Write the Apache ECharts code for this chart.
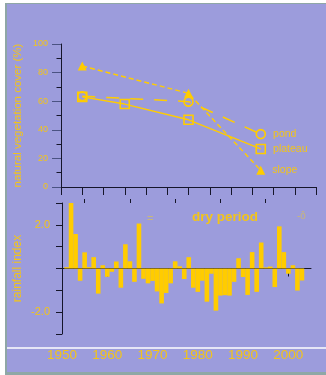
<!DOCTYPE html>
<html><head><meta charset="utf-8">
<script src="https://cdn.jsdelivr.net/npm/echarts@6.0.0/dist/echarts.min.js"></script>
<style>
html,body{margin:0;padding:0;background:#fff;width:326px;height:375px;overflow:hidden}
#frame{position:absolute;left:5px;top:3px;width:319px;height:368px;background:#9c9cdc;border-left:2px solid #8fa7a6;border-top:1px solid #8fa7a6;border-bottom:3px solid #8fa7a6}
#chart{position:absolute;left:0;top:0;width:326px;height:375px}
</style></head><body>
<div id="frame"></div><div id="chart"></div>
<script>
// Vegetation cover surveys (top panel)
const surveyYears = [1955, 1965, 1980, 1997];
const pondCover    = [63.5, null, 59.7, 37];
const plateauCover = [63,   58,   47,   26.6];
const slopeCover   = [84.6, null, 65.5, 11.7];
const seriesNames  = ['pond', 'plateau', 'slope'];

// Rainfall index (bottom panel)
const rainYears = [1951,1952,1953,1954,1955,1956,1957,1958,1959,1960,
  1961,1962,1963,1964,1965,1966,1967,1968,1969,1970,
  1971,1972,1973,1974,1975,1976,1977,1978,1979,1980,
  1981,1982,1983,1984,1985,1986,1987,1988,1989,1990,
  1991,1992,1993,1994,1995,1996,1997,1998,1999,2000,
  2001,2002,2003];
const rainIndex = [0.06,3.0,1.58,-0.56,0.74,0.06,0.52,-1.15,0.15,-0.38,
  -0.15,0.32,-0.88,1.11,0.33,-0.61,2.06,-0.47,-0.68,-0.57,
  -1.05,-1.6,-1.12,-0.68,0.33,0.1,-0.48,0.52,-0.88,-1.07,
  -0.56,-1.52,-0.24,-1.93,-1.24,-1.22,-1.24,-0.61,0.47,-0.39,
  -1.21,0.75,-1.07,1.19,0.05,0.09,-0.85,1.93,0.75,-0.24,
  0.15,-1.01,-0.55];

const xMajorTicks = [1950,1960,1970,1980,1990,2000];
const xMinorTicks = [1955,1965,1975,1985,1995];
const rainLabelTicks = [-2, 2];

const YEL = '#ffcc00', TXT = '#f2c41a', AX = '#15152a', FONT = "'Liberation Sans', Arial, sans-serif";

function pts(vals, name) {
  const out = [];
  vals.forEach((v, i) => { if (v !== null) out.push({ value: [surveyYears[i], v] }); });
  out[out.length - 1].label = { show: true, formatter: name, position: 'right', distance: 7,
    color: TXT, fontSize: 10.5, fontFamily: FONT };
  return out;
}

const chart = echarts.init(document.getElementById('chart'), null, { renderer: 'canvas' });
chart.setOption({
  animation: false,
  backgroundColor: 'transparent',
  textStyle: { fontFamily: FONT },
  grid: [
    { left: 61, top: 44, width: 255, height: 143 },
    { left: 62, top: 203, width: 249, height: 131 }
  ],
  xAxis: [
    { type: 'value', gridIndex: 0, min: 1950, max: 2010, interval: 5,
      axisLine: { show: true, lineStyle: { color: AX } },
      axisTick: { show: true, length: 8, lineStyle: { color: AX } },
      axisLabel: { show: false }, splitLine: { show: false } },
    { type: 'value', gridIndex: 1, min: 1950, max: 2005,
      axisLine: { show: true, lineStyle: { color: AX } },
      axisTick: { show: true, customValues: xMajorTicks, length: 8, lineStyle: { color: AX } },
      axisLabel: { customValues: xMajorTicks, formatter: v => String(v), color: TXT, fontSize: 13.5, margin: 14, fontFamily: FONT },
      splitLine: { show: false } },
    { type: 'value', gridIndex: 1, min: 1950, max: 2005,
      axisLine: { show: false },
      axisTick: { show: true, customValues: xMinorTicks, length: 4, lineStyle: { color: AX } },
      axisLabel: { show: false }, splitLine: { show: false } }
  ],
  yAxis: [
    { type: 'value', gridIndex: 0, min: 0, max: 100, interval: 20,
      name: 'natural vegetation cover (%)', nameLocation: 'middle', nameGap: 37, nameMoveOverlap: false,
      nameTextStyle: { color: TXT, fontSize: 11.5, fontFamily: FONT },
      axisLine: { show: true, lineStyle: { color: AX } },
      axisTick: { show: true, length: 9, lineStyle: { color: '#4a5282' } },
      minorTick: { show: true, splitNumber: 2, length: 4.5, lineStyle: { color: AX } },
      axisLabel: { color: TXT, fontSize: 9, margin: 13, fontFamily: FONT },
      splitLine: { show: false }, minorSplitLine: { show: false } },
    { type: 'value', gridIndex: 1, min: -3, max: 3, interval: 1,
      name: 'rainfall index', nameLocation: 'middle', nameGap: 38, nameMoveOverlap: false,
      nameTextStyle: { color: TXT, fontSize: 12, fontFamily: FONT },
      axisLine: { show: true, lineStyle: { color: AX } },
      axisTick: { show: true, length: 6, lineStyle: { color: AX } },
      axisLabel: { customValues: rainLabelTicks, formatter: v => v.toFixed(1), color: TXT, fontSize: 11, margin: 12, fontFamily: FONT },
      splitLine: { show: false } }
  ],
  series: [
    { name: seriesNames[0], type: 'line', xAxisIndex: 0, yAxisIndex: 0, data: pts(pondCover, seriesNames[0]),
      symbol: 'circle', symbolSize: 9,
      lineStyle: { color: YEL, width: 1.5, type: [13, 11] },
      itemStyle: { color: 'transparent', borderColor: YEL, borderWidth: 1.6 } },
    { name: seriesNames[1], type: 'line', xAxisIndex: 0, yAxisIndex: 0, data: pts(plateauCover, seriesNames[1]),
      symbol: 'rect', symbolSize: 9,
      lineStyle: { color: YEL, width: 1.4 },
      itemStyle: { color: 'transparent', borderColor: YEL, borderWidth: 1.6 } },
    { name: seriesNames[2], type: 'line', xAxisIndex: 0, yAxisIndex: 0, data: pts(slopeCover, seriesNames[2]),
      symbol: 'triangle', symbolSize: 9,
      lineStyle: { color: YEL, width: 1.4, type: [5, 3] },
      itemStyle: { color: YEL } },
    { name: 'rainfall', type: 'bar', xAxisIndex: 1, yAxisIndex: 1,
      data: rainYears.map((y, i) => [y, rainIndex[i]]),
      barWidth: 4.6, itemStyle: { color: YEL } }
  ],
  graphic: [
    { type: 'line', shape: { x1: 7, y1: 348, x2: 326, y2: 348 }, style: { stroke: '#ffffff', lineWidth: 1.5 }, silent: true },
    { type: 'text', x: 192, y: 217, style: { text: 'dry period', fill: TXT, font: "bold 13.5px 'Liberation Sans', Arial", textVerticalAlign: 'middle' } },
    { type: 'text', x: 147, y: 219, style: { text: '=', fill: '#c8b77a', font: "11px 'Liberation Sans', Arial", textVerticalAlign: 'middle' } },
    { type: 'text', x: 297, y: 216, style: { text: '-ô', fill: '#c8b77a', font: "10px 'Liberation Sans', Arial", textVerticalAlign: 'middle' } }
  ]
});
</script>
</body></html>
